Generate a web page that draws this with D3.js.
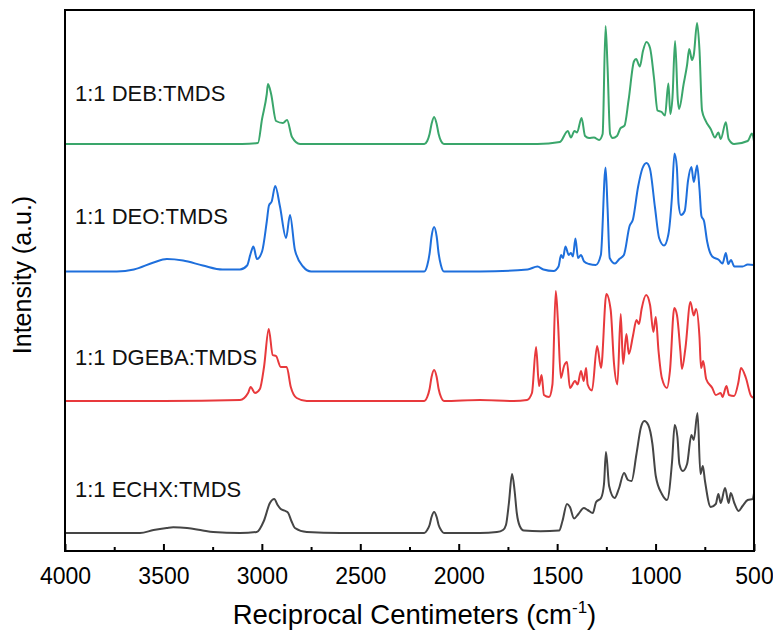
<!DOCTYPE html>
<html>
<head>
<meta charset="utf-8">
<script src="https://cdn.jsdelivr.net/npm/d3@7"></script>
<style>
  body { margin: 0; background: #fff; }
  text { font-family: "Liberation Sans", Arial, sans-serif; }
</style>
</head>
<body>
<div id="chart"></div>
<script>
// Series labels, colours and vertical offsets (a.u.)
const seriesNames = ["1:1 ECHX:TMDS", "1:1 DGEBA:TMDS", "1:1 DEO:TMDS", "1:1 DEB:TMDS"];
const seriesColors = ["#454545", "#e8393c", "#1e6fdc", "#3aa66b"];
const seriesOffsets = [0.18, 1.50, 2.795, 4.07];

// Spectra as [wavenumber (cm-1), intensity (a.u.)]
const echx = [
  [4000, 0], [3750, 0], [3619, 0], [3550, 0.03], [3483, 0.05], [3450, 0.057], [3380, 0.05], [3300, 0.025],
  [3247, 0.01], [3111, 0], [3026, 0.01], [2990, 0.12], [2959, 0.30], [2937, 0.34], [2920, 0.28], [2904, 0.24],
  [2880, 0.22], [2866, 0.20], [2850, 0.12], [2832, 0.05], [2772, 0.01], [2600, 0], [2200, 0], [2175, 0],
  [2160, 0.03], [2148, 0.08], [2138, 0.16], [2125, 0.21], [2112, 0.16], [2102, 0.08], [2090, 0.03],
  [2075, 0], [1892, 0], [1806, 0.01], [1775, 0.03], [1760, 0.08], [1745, 0.30], [1729, 0.59], [1716, 0.42],
  [1705, 0.20], [1690, 0.07], [1669, 0.024], [1584, 0.017], [1490, 0.024],
  [1473, 0.12], [1450, 0.29], [1435, 0.26], [1414, 0.145], [1392, 0.19], [1365, 0.25], [1345, 0.23],
  [1319, 0.20], [1302, 0.31], [1277, 0.35], [1262, 0.49], [1252, 0.81], [1236, 0.47], [1208, 0.35],
  [1187, 0.44], [1160, 0.60], [1140, 0.53], [1122, 0.52], [1097, 0.79], [1074, 1.06], [1057, 1.12],
  [1037, 1.08], [1016, 0.89], [999, 0.57], [968, 0.39], [942, 0.33], [916, 0.72], [903, 1.08], [889, 0.96],
  [879, 0.69], [862, 0.62], [840, 0.69], [818, 0.98], [806, 0.93], [787, 1.20], [772, 0.59], [760, 0.67],
  [749, 0.52], [720, 0.26], [694, 0.29], [681, 0.39], [669, 0.30], [647, 0.45], [629, 0.30], [618, 0.40],
  [600, 0.30], [578, 0.22], [558, 0.27], [532, 0.33], [506, 0.34], [500, 0.40]
];

const dgeba = [
  [4000, 0], [3500, 0], [3111, 0.01], [3070, 0.08], [3057, 0.14], [3035, 0.08], [3010, 0.12], [2989, 0.34],
  [2965, 0.72], [2945, 0.46], [2928, 0.45], [2904, 0.34], [2874, 0.34], [2853, 0.14], [2823, 0.03],
  [2772, 0], [2200, 0], [2175, 0], [2160, 0.04], [2148, 0.12], [2138, 0.24], [2125, 0.31], [2112, 0.24],
  [2102, 0.12], [2090, 0.04], [2075, 0], [1892, 0.01], [1721, 0], [1653, 0.01], [1628, 0.08], [1607, 0.54],
  [1592, 0.15], [1579, 0.26],
  [1567, 0.06], [1541, 0.04], [1524, 0.165], [1507, 1.10], [1496, 0.80], [1481, 0.23], [1465, 0.35],
  [1450, 0.39], [1435, 0.13], [1409, 0.20], [1396, 0.165], [1379, 0.30], [1365, 0.20], [1353, 0.33],
  [1345, 0.165], [1323, 0.105], [1297, 0.55], [1277, 0.33], [1250, 1.07], [1228, 0.91], [1211, 0.37],
  [1194, 0.165], [1177, 0.87], [1165, 0.37], [1148, 0.67], [1136, 0.47], [1115, 0.65], [1097, 0.81],
  [1084, 0.77], [1071, 0.92], [1048, 1.06], [1028, 0.96], [1011, 0.69], [999, 0.84], [985, 0.50],
  [968, 0.23], [942, 0.13], [927, 0.30], [905, 0.93], [891, 0.855], [874, 0.50], [866, 0.32], [848, 0.535],
  [823, 0.99], [806, 0.855], [794, 0.92], [777, 0.64], [769, 0.33], [758, 0.40], [743, 0.22], [712, 0.13],
  [694, 0.06], [669, 0.08], [660, 0.04], [640, 0.15], [627, 0.06], [601, 0.05], [580, 0.18], [566, 0.33],
  [541, 0.23], [515, 0.05], [500, 0.03]
];

const deo = [
  [4000, 0], [3737, 0], [3650, 0.02], [3550, 0.09], [3483, 0.125], [3400, 0.11], [3300, 0.06], [3200, 0.02],
  [3111, 0.02], [3075, 0.06], [3057, 0.18], [3043, 0.25], [3025, 0.125], [2999, 0.20], [2975, 0.50],
  [2964, 0.66], [2950, 0.70], [2932, 0.855], [2908, 0.65], [2877, 0.335], [2857, 0.565], [2832, 0.215],
  [2791, 0.05], [2750, 0], [2200, 0], [2175, 0], [2160, 0.06], [2148, 0.18], [2138, 0.35], [2125, 0.445],
  [2112, 0.35], [2102, 0.18], [2090, 0.06], [2075, 0], [1892, 0], [1650, 0.02], [1600, 0.05], [1570, 0.02],
  [1518, 0.005], [1493, 0.05], [1480, 0.165],
  [1470, 0.135], [1458, 0.25], [1441, 0.165], [1430, 0.185], [1420, 0.15], [1407, 0.33], [1394, 0.135],
  [1379, 0.165], [1363, 0.10], [1338, 0.075], [1304, 0.065], [1278, 0.165], [1254, 1.04], [1244, 0.64],
  [1233, 0.135], [1206, 0.08], [1184, 0.125], [1161, 0.165], [1132, 0.455], [1115, 0.52], [1089, 0.845],
  [1067, 1.03], [1046, 1.085], [1029, 1.03], [1003, 0.64], [982, 0.335], [957, 0.26], [935, 0.37],
  [917, 0.74], [904, 1.18], [892, 1.045], [883, 0.675], [871, 0.565], [852, 0.605], [835, 0.91],
  [818, 1.045], [806, 0.895], [789, 1.06], [777, 0.825], [767, 0.555], [754, 0.505], [738, 0.30],
  [712, 0.15], [678, 0.115], [660, 0.08], [643, 0.185], [631, 0.075], [617, 0.115], [600, 0.05],
  [558, 0.05], [532, 0.07], [500, 0.065]
];

const deb = [
  [4000, 0], [3100, 0], [3020, 0.01], [2999, 0.25], [2975, 0.50], [2969, 0.60], [2953, 0.50], [2928, 0.23],
  [2893, 0.21], [2872, 0.24], [2847, 0.07], [2806, 0], [2200, 0], [2175, 0], [2160, 0.03], [2148, 0.10],
  [2138, 0.20], [2125, 0.27], [2112, 0.20], [2102, 0.10], [2090, 0.03], [2075, 0], [1600, 0], [1486, 0.02],
  [1446, 0.13], [1430, 0.065], [1412, 0.13],
  [1399, 0.116], [1376, 0.26], [1358, 0.08], [1338, 0.06], [1313, 0.065], [1287, 0.04], [1269, 0.10],
  [1254, 1.18], [1244, 0.774], [1231, 0.10], [1218, 0.06], [1196, 0.08], [1179, 0.156], [1158, 0.183],
  [1137, 0.44], [1110, 0.825], [1099, 0.85], [1080, 0.774], [1064, 0.93], [1046, 1.02], [1028, 0.96],
  [1008, 0.66], [990, 0.335], [969, 0.32], [952, 0.284], [935, 0.605], [925, 0.30], [914, 0.47],
  [901, 1.03], [887, 0.44], [881, 0.35], [857, 0.605], [840, 0.79], [829, 0.95], [815, 0.84], [806, 0.89],
  [789, 1.21], [777, 0.943], [764, 0.335], [746, 0.234], [720, 0.15], [698, 0.065], [681, 0.116],
  [669, 0.05], [643, 0.217], [629, 0.05], [601, 0], [532, 0.03], [510, 0.105], [500, 0.03]
];

const spectra = [echx, dgeba, deo, deb];

// Axis ticks
const majorTicks = [4000, 3500, 3000, 2500, 2000, 1500, 1000, 500];
const minorTicks = [3750, 3250, 2750, 2250, 1750, 1250, 750];

const width = 773, height = 631;
const margin = { top: 10, right: 19, bottom: 80, left: 65 };

// how far each label's baseline sits above its spectrum (px)
const labelLift = [36, 36, 48, 43];

const svg = d3.select("#chart")
  .append("svg")
  .attr("width", width)
  .attr("height", height);

const x = d3.scaleLinear()
  .domain([4000, 500])
  .range([margin.left, width - margin.right]);

const y = d3.scaleLinear()
  .domain([0, 5.41])
  .range([height - margin.bottom, margin.top]);

svg.append("clipPath")
  .attr("id", "plot-clip")
  .append("rect")
  .attr("x", margin.left)
  .attr("y", margin.top)
  .attr("width", width - margin.left - margin.right)
  .attr("height", height - margin.top - margin.bottom);

// Draw the spectra
const plot = svg.append("g").attr("clip-path", "url(#plot-clip)");

spectra.forEach(function (data, i) {
  const line = d3.line()
    .x(d => x(d[0]))
    .y(d => y(d[1] + seriesOffsets[i]))
    .curve(d3.curveMonotoneX);

  plot.append("path")
    .datum(data)
    .attr("fill", "none")
    .attr("stroke", seriesColors[i])
    .attr("stroke-width", 2)
    .attr("stroke-linejoin", "round")
    .attr("d", line);

  svg.append("text")
    .attr("x", margin.left + 10)
    .attr("y", y(seriesOffsets[i]) - labelLift[i])
    .style("font-size", "22px")
    .attr("fill", "#111")
    .text(seriesNames[i]);
});

// Bottom axis, ticks pointing inward
const xAxis = svg.append("g")
  .attr("transform", `translate(0,${height - margin.bottom})`)
  .call(d3.axisBottom(x).tickValues(majorTicks).tickFormat(d3.format("d"))
    .tickSizeInner(-7).tickSizeOuter(0).tickPadding(17));

xAxis.select(".domain").remove();
xAxis.selectAll(".tick line").attr("stroke", "#000").attr("stroke-width", 2);
xAxis.selectAll(".tick text")
  .style("font-size", "23px")
  .attr("fill", "#000")
  .attr("dy", "0.71em");

const xMinor = svg.append("g")
  .attr("transform", `translate(0,${height - margin.bottom})`)
  .call(d3.axisBottom(x).tickValues(minorTicks).tickSizeInner(-4).tickSizeOuter(0).tickFormat(""));

xMinor.select(".domain").remove();
xMinor.selectAll(".tick line").attr("stroke", "#000").attr("stroke-width", 2);

// Frame
svg.append("rect")
  .attr("x", margin.left)
  .attr("y", margin.top)
  .attr("width", width - margin.left - margin.right)
  .attr("height", height - margin.top - margin.bottom)
  .attr("fill", "none")
  .attr("stroke", "#000")
  .attr("stroke-width", 2);

// Axis titles
const xTitle = svg.append("text")
  .attr("x", (margin.left + width - margin.right) / 2 + 5)
  .attr("y", 624)
  .attr("text-anchor", "middle")
  .style("font-size", "27.5px")
  .attr("fill", "#000");

xTitle.append("tspan").text("Reciprocal Centimeters (cm");
xTitle.append("tspan").attr("dy", -11).style("font-size", "17px").text("-1");
xTitle.append("tspan").attr("dy", 11).text(")");

svg.append("text")
  .attr("transform", "translate(31,275) rotate(-90)")
  .attr("text-anchor", "middle")
  .style("font-size", "25px")
  .attr("fill", "#000")
  .text("Intensity (a.u.)");
</script>
</body>
</html>
